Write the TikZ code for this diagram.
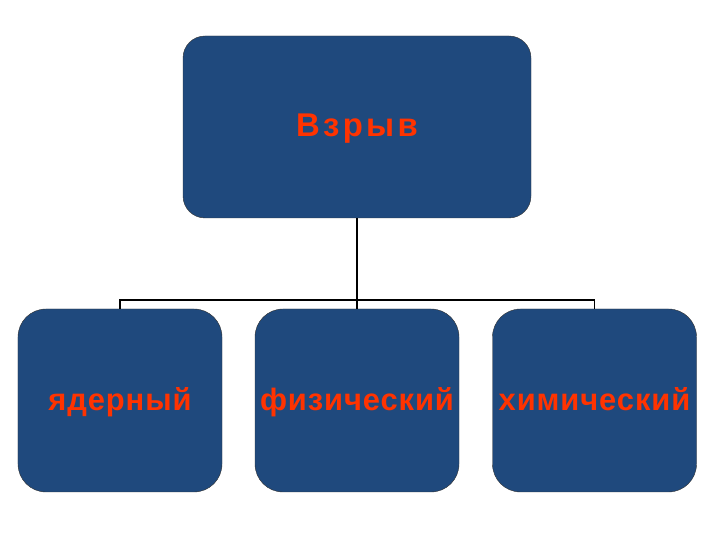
\documentclass[tikz,border=0pt]{standalone}
\usepackage{fontspec}
\setmainfont{Liberation Sans}
\definecolor{boxblue}{HTML}{1F497D}
\definecolor{labelred}{HTML}{FF3300}
\tikzset{
	kindbox/.style={draw=black!80,fill=boxblue,rounded corners=28bp,text=labelred,
		font=\bfseries\fontsize{31}{34}\selectfont\addfontfeatures{LetterSpace=3},inner sep=0pt,
		minimum width=204bp,minimum height=183bp,text height=20bp,text depth=0pt},
}
\begin{document}
\begin{tikzpicture}[x=1bp,y=1bp]
	\useasboundingbox (0,0) rectangle (720,540);
	% top box
	\node[kindbox,rounded corners=22bp,minimum width=348bp,minimum height=182bp,
		text height=20bp,
		font=\bfseries\fontsize{33}{36}\selectfont\addfontfeatures{LetterSpace=10}] (vzryv) at (357,413) {Взрыв};
	% three kinds
	\node[kindbox] (yader) at (120,139.5) {ядерный};
	\node[kindbox] (fiz) at (357,139.5) {физический};
	\node[kindbox] (khim) at (594.5,139.5) {химический};

	\coordinate (hub) at (357,240);
	\draw[line width=2bp] (vzryv) -- (hub);
	\draw[line width=1.5bp] (yader.north) |- (hub) -| (khim.north);
	\draw[line width=1.5bp] (hub) -- (fiz.north);
\end{tikzpicture}
\end{document}
